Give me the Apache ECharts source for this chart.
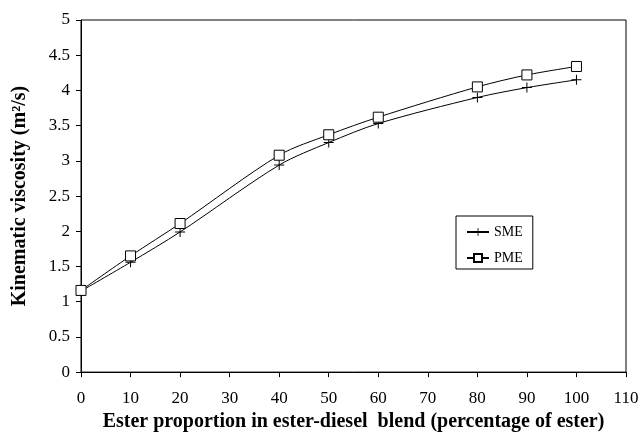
<!DOCTYPE html>
<html>
<head>
<meta charset="utf-8">
<script src="https://cdn.jsdelivr.net/npm/echarts@6/dist/echarts.min.js"></script>
<style>
  html, body { margin: 0; padding: 0; background: #fff; }
  #chart { width: 643px; height: 437px; }
</style>
</head>
<body>
<div id="chart"></div>
<script>
// ester proportion (%)
const esterPct = [0, 10, 20, 40, 50, 60, 80, 90, 100];
// kinematic viscosity values
const smeValues = [1.15, 1.56, 1.99, 2.94, 3.26, 3.53, 3.90, 4.04, 4.15];
const pmeValues = [1.16, 1.65, 2.11, 3.08, 3.37, 3.62, 4.05, 4.22, 4.34];

const serif = "Liberation Serif";
const plusIcon = "path://M4.5,0H5.5V4.5H10V5.5H5.5V10H4.5V5.5H0V4.5H4.5Z";

const pairs = (vals) => esterPct.map((x, i) => [x, vals[i]]);

const chart = echarts.init(document.getElementById("chart"));
chart.setOption({
  backgroundColor: "#fff",
  animation: false,
  grid: {
    left: 81,
    right: 17,
    top: 20,
    bottom: 64,
    show: true,
    borderColor: "#000",
    borderWidth: 1
  },
  legend: {
    orient: "vertical",
    left: 456,
    top: 216,
    padding: [9, 10, 4, 10],
    itemGap: 12,
    itemWidth: 22,
    itemHeight: 10,
    backgroundColor: "#fff",
    borderColor: "#000",
    borderWidth: 1,
    textStyle: { fontFamily: serif, fontSize: 14, color: "#000" },
    data: ["SME", "PME"]
  },
  xAxis: {
    type: "value",
    min: 0,
    max: 110,
    interval: 10,
    name: "Ester proportion in ester-diesel  blend (percentage of ester)",
    nameLocation: "middle",
    nameGap: 36,
    nameTextStyle: { fontFamily: serif, fontSize: 20, fontWeight: "bold", color: "#000" },
    axisLine: { lineStyle: { color: "#000", width: 1 } },
    axisTick: { inside: false, length: 5, lineStyle: { color: "#000" } },
    axisLabel: { fontFamily: serif, fontSize: 17, color: "#000", margin: 18 },
    splitLine: { show: false }
  },
  yAxis: {
    type: "value",
    min: 0,
    max: 5,
    interval: 0.5,
    name: "Kinematic viscosity (m²/s)",
    nameLocation: "middle",
    nameGap: 51,
    nameTextStyle: { fontFamily: serif, fontSize: 20, fontWeight: "bold", color: "#000" },
    axisLine: { show: true, lineStyle: { color: "#000", width: 1 } },
    axisTick: { show: true, inside: false, length: 5, lineStyle: { color: "#000" } },
    axisLabel: { fontFamily: serif, fontSize: 17, color: "#000", margin: 11 },
    splitLine: { show: false }
  },
  series: [
    {
      name: "SME",
      type: "line",
      smooth: 0.3,
      data: pairs(smeValues),
      symbol: plusIcon,
      symbolSize: 10,
      lineStyle: { color: "#000", width: 1 },
      itemStyle: { color: "#000" }
    },
    {
      name: "PME",
      type: "line",
      smooth: 0.3,
      data: pairs(pmeValues),
      symbol: "rect",
      symbolSize: 10,
      lineStyle: { color: "#000", width: 1 },
      itemStyle: { color: "#fff", borderColor: "#000", borderWidth: 1 }
    }
  ]
});
</script>
</body>
</html>
